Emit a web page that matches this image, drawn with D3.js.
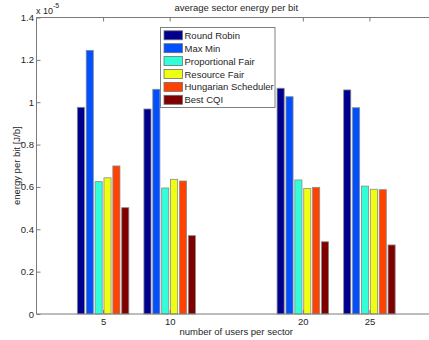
<!DOCTYPE html>
<html>
<head>
<meta charset="utf-8">
<script src="https://cdn.jsdelivr.net/npm/d3@7"></script>
<style>
  html, body { margin: 0; padding: 0; background: #fff; }
  svg { display: block; font-family: "Liberation Sans", Arial, Helvetica, sans-serif; }
</style>
</head>
<body>
<svg id="chart" width="429" height="340"></svg>
<script>
// Users per sector (group positions on the x axis)
const users = [5, 10, 20, 25];

// Scheduler names, in legend order
const schedulers = ["Round Robin", "Max Min", "Proportional Fair", "Resource Fair", "Hungarian Scheduler", "Best CQI"];

// Energy per bit, in units of 1e-5 J/b, one array per scheduler (values for 5, 10, 20, 25 users)
const roundRobin   = [0.976, 0.968, 1.066, 1.058];
const maxMin       = [1.245, 1.061, 1.026, 0.974];
const propFair     = [0.625, 0.595, 0.633, 0.604];
const resourceFair = [0.643, 0.636, 0.593, 0.589];
const hungarian    = [0.699, 0.628, 0.598, 0.587];
const bestCQI      = [0.502, 0.370, 0.341, 0.326];

const series = [roundRobin, maxMin, propFair, resourceFair, hungarian, bestCQI];

// Jet-style colours, one per scheduler
const colors = ["#00008f", "#0050ff", "#30ffd8", "#eeff12", "#ff4200", "#800000"];

// Axis ticks
const yTicks = [0, 0.2, 0.4, 0.6, 0.8, 1, 1.2, 1.4];

const svg = d3.select("#chart");
const m = { left: 36.5, top: 17.5, right: 436, bottom: 314 };
const fs = 9.5;

const x = d3.scaleLinear().domain([0, 30]).range([m.left, m.right]);
const y = d3.scaleLinear().domain([0, 1.4]).range([m.bottom, m.top]);

// Grouped bars: total group width 4 units, split into equal slots
const groupWidth = 4;
const slot = d3.scaleBand()
  .domain(d3.range(schedulers.length))
  .range([-groupWidth / 2, groupWidth / 2])
  .paddingInner(0.2)
  .paddingOuter(0.1);

const textColor = "#262626";
const axisColor = "#7a7a7a";

// Bars
series.forEach((vals, si) => {
  svg.append("g")
    .selectAll("rect")
    .data(vals)
    .join("rect")
    .attr("x", (d, i) => x(users[i] + slot(si)))
    .attr("width", x(slot.bandwidth()) - x(0))
    .attr("y", d => y(d))
    .attr("height", d => y(0) - y(d))
    .attr("fill", colors[si])
    .attr("stroke", "#8a8a8a")
    .attr("stroke-width", 0.8);
});

// Plot box lines (left, bottom, top)
const frame = svg.append("g").attr("stroke", axisColor).attr("stroke-width", 1).attr("fill", "none");
frame.append("line").attr("x1", m.left).attr("x2", m.left).attr("y1", m.top).attr("y2", m.bottom);
frame.append("line").attr("x1", m.left).attr("x2", m.right).attr("y1", m.bottom).attr("y2", m.bottom);
frame.append("line").attr("x1", m.left).attr("x2", m.right).attr("y1", m.top).attr("y2", m.top);

// Y axis: inward ticks
const yAxis = d3.axisLeft(y).tickValues(yTicks).tickSize(-4).tickPadding(2.5)
  .tickFormat(d => d3.format("~g")(d));
const gy = svg.append("g").attr("transform", `translate(${m.left},0)`).call(yAxis);
gy.select(".domain").remove();
gy.selectAll("line").attr("stroke", axisColor);
gy.selectAll("text").attr("fill", textColor).attr("font-size", fs)
  .attr("font-family", "Liberation Sans, Arial, sans-serif");

// X axis: inward ticks at bottom
const xAxis = d3.axisBottom(x).tickValues(users).tickSize(-4).tickPadding(4).tickFormat(d3.format("d"));
const gx = svg.append("g").attr("transform", `translate(0,${m.bottom})`).call(xAxis);
gx.select(".domain").remove();
gx.selectAll("line").attr("stroke", axisColor);
gx.selectAll("text").attr("fill", textColor).attr("font-size", fs)
  .attr("font-family", "Liberation Sans, Arial, sans-serif");

// Mirrored ticks along the top edge
const xTop = d3.axisTop(x).tickValues(users).tickSize(-4).tickFormat("");
const gxt = svg.append("g").attr("transform", `translate(0,${m.top})`).call(xTop);
gxt.select(".domain").remove();
gxt.selectAll("line").attr("stroke", axisColor);

// Exponent marker
const expo = svg.append("text").attr("x", 36).attr("y", 14).attr("font-size", 9).attr("fill", textColor);
expo.append("tspan").text("x 10");
expo.append("tspan").attr("dy", -6).attr("font-size", 7).text("-5");

// Title and axis labels
svg.append("text").attr("x", (m.left + m.right) / 2).attr("y", 10.5)
  .attr("text-anchor", "middle").attr("font-size", fs).attr("fill", textColor)
  .text("average sector energy per bit");

svg.append("text").attr("x", (m.left + m.right) / 2).attr("y", 335)
  .attr("text-anchor", "middle").attr("font-size", fs).attr("fill", textColor)
  .text("number of users per sector");

svg.append("text")
  .attr("transform", `translate(19.5,${(m.top + m.bottom) / 2}) rotate(-90)`)
  .attr("text-anchor", "middle").attr("font-size", fs).attr("fill", textColor)
  .text("energy per bit  [J/b]");

// Legend
const lg = svg.append("g").attr("transform", "translate(160.5,27.5)");
lg.append("rect").attr("width", 114.5).attr("height", 80)
  .attr("fill", "#fff").attr("stroke", "#808080").attr("stroke-width", 1);
schedulers.forEach((name, i) => {
  const row = lg.append("g").attr("transform", `translate(0,${7.8 + i * 12.9})`);
  row.append("rect").attr("x", 3.5).attr("y", -4.5).attr("width", 18.5).attr("height", 9)
    .attr("fill", colors[i]).attr("stroke", "#707070").attr("stroke-width", 0.8);
  row.append("text").attr("x", 24).attr("y", 3.5).attr("font-size", fs).attr("fill", textColor)
    .text(name);
});
</script>
</body>
</html>
